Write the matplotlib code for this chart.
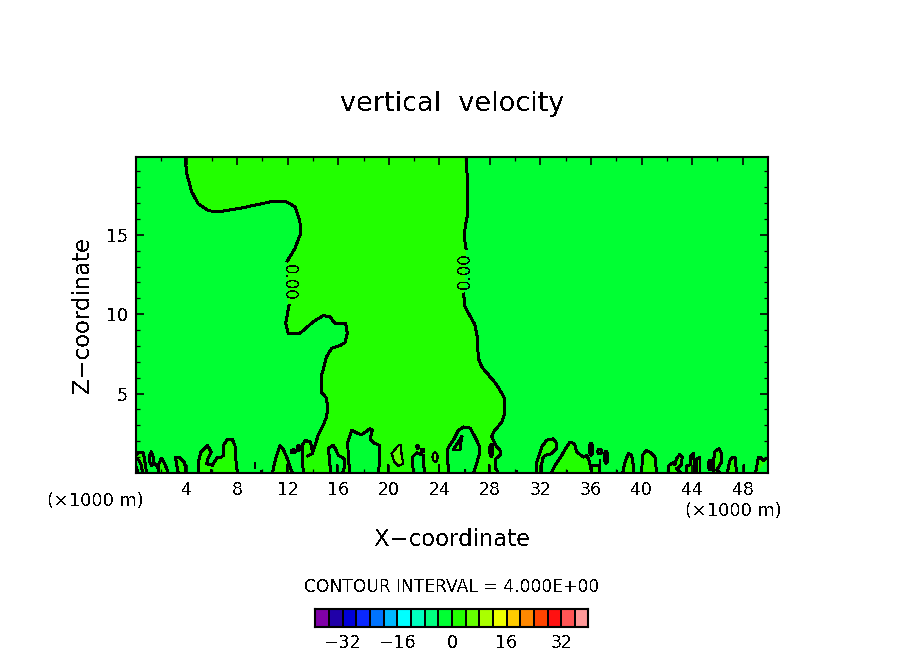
import matplotlib
matplotlib.use("Agg")
import matplotlib.pyplot as plt
from matplotlib.colors import ListedColormap, BoundaryNorm
from matplotlib.patches import Ellipse
import numpy as np

plt.rcParams['text.antialiased'] = False

# ---- zero contour of the main updraft (x, z in km) ----
left_up_x = [3.88,4.01,4.40,4.93,5.72,6.51,8.23,10.60,11.92,12.58,12.97,13.03,12.58,11.97]
left_up_z = [19.9,18.87,17.72,16.94,16.52,16.44,16.67,17.07,17.07,16.77,15.83,15.09,14.15,13.35]
left_lo_x = [12.10,11.84,12.05,12.97,14.03,14.82,15.35,15.74,16.59,16.72,16.54,16.14,15.48,15.08,14.69,14.64,15.08,15.16,15.08,14.82,14.42,14.16,13.95,13.90,13.77,13.37,13.16,13.16,13.24]
left_lo_z = [10.54,9.42,8.80,8.80,9.53,9.91,9.84,9.42,9.42,8.80,8.21,8.02,7.85,7.33,6.17,5.12,4.70,4.01,3.55,3.02,2.39,1.74,1.22,1.64,1.95,2.06,1.74,0.90,0]
right_up_x = [26.11,26.24,26.24,26.03,25.98,26.11]
right_up_z = [19.9,18.24,16.35,15.41,14.78,14.15]
right_lo_x = [25.92,26.03,26.82,27.00,27.08,27.35,28.00,28.50,29.03,29.19,29.19,28.93,28.27,28.14,28.54,28.80,28.80,28.46,28.46,28.67]
right_lo_z = [11.27,10.47,9.32,8.59,7.22,6.69,6.07,5.60,4.90,4.60,3.76,3.20,2.57,2.27,1.64,1.43,1.11,0.90,0.27,0]
hook_x = [13.95,13.58]
hook_z = [1.22,1.07]

# ---- closed positive/negative cells along the ground: (x list, z list) ----
light_cells = [
    ([0,0.16,0.58,0.71,0.84],[1.11,1.28,1.28,0.69,0]),
    ([1.74,1.82,2.00,2.20,2.43,2.53],[0,0.59,0.94,0.69,0.27,0]),
    ([3.35,3.19,3.14,3.45,3.80,3.93,3.96],[0,0.59,0.97,1.00,0.69,0.38,0]),
    ([4.91,4.93,5.12,5.64,5.96,5.70,5.59,6.04,6.43,6.75,6.91,6.91,7.23,7.62,7.83,7.89,8.02],
     [0,0.69,1.32,1.74,1.32,0.90,0.59,0.48,1.00,1.00,1.11,1.74,2.12,2.12,1.74,0.90,0]),
    ([10.79,11.05,11.39,11.63,11.97,12.37],[0,0.90,1.74,1.53,0.90,0]),
    ([31.70,31.70,32.10,32.49,33.02,33.28,33.28,32.89,32.36,32.15,32.04],[0,0.69,1.64,2.06,2.16,1.85,1.53,1.22,1.11,0.90,0]),
    ([32.84,33.15,33.68,34.07,34.34,34.68,34.87,35.39,35.66,35.84,36.05],[0,0.48,1.11,1.64,1.95,1.85,1.32,1.00,1.11,0.80,0]),
    ([36.05,36.05,36.64,36.69],[0,0.48,0.48,0]),
    ([38.50,38.69,38.95,39.21,39.35,39.35],[0,0.69,1.22,1.11,0.48,0]),
    ([40.01,40.06,40.40,40.80,41.06,41.19],[0,1.11,1.43,1.22,1.00,0]),
    ([42.11,42.17,42.51,42.64,42.77,42.99,43.22,43.12,42.77,43.09],[0,0.48,0.65,0.52,0.90,1.15,1.00,0.48,0.27,0]),
    ([43.51,43.57,43.83,43.91,44.09,44.17,44.17],[0,0.44,0.52,1.11,1.22,0.69,0]),
    ([44.30,44.36,44.62,44.62],[0,0.90,0.97,0]),
    ([45.67,45.67,45.81,46.12,46.33,46.33,45.94,46.26],[0,0.69,1.36,1.53,1.22,0.69,0.17,0]),
    ([46.78,46.99,47.20,47.39,47.52],[0,0.80,1.00,0.97,0]),
    ([49.02,49.23,49.42,49.63,50.0],[0,0.97,1.00,0.80,0.97]),
]
dark_cells = [
    ([15.40,15.30,15.22,15.61,15.80,16.01,16.48,16.48,16.35],[0,0.90,1.57,1.74,1.49,1.11,0.90,0.38,0]),
    ([16.93,16.80,16.75,17.06,17.59,17.85,18.51,18.70,18.51,18.78,19.25,19.30,19.17],[0,0.90,1.95,2.69,2.48,2.41,2.79,2.69,2.16,1.91,1.74,0.90,0]),
    ([21.94,21.86,22.21,22.73,22.81],[0,1.00,1.28,1.11,0]),
    ([24.76,24.66,24.66,25.10,25.50,25.90,26.43,26.82,27.14,27.14,26.82,26.69],[0,0.69,1.53,2.06,2.69,2.90,2.83,2.27,1.74,1.11,0.27,0]),
]
inner_lines = [
    ([0,0.24,0.42,0.53],[0.90,0.80,0.48,0]),
    ([0,0.16],[0.38,0]),
    ([1.50,1.74],[0.59,0.31]),
]
triangle_x = [25.77,25.63,25.08,25.77]
triangle_z = [2.29,1.45,1.45,2.29]
blob_x = [1.21,1.37,1.35,1.21,1.08,1.06,1.21]
blob_z = [1.32,1.00,0.59,0.48,0.69,1.07,1.32]
warm_x = [20.23,20.76,20.94,21.02,21.15,20.76,20.44,20.23]
warm_z = [1.22,1.74,1.74,1.11,0.59,0.44,0.69,1.22]

# short ground-attached stubs: x, z top, z bottom
stub_x = [5.96,9.39,9.92,11.92,15.93,19.91,23.97,26.03,27.96,30.12,34.07,38.08,48.10,36.69]
stub_top = [0.27,0.69,0.20,0.59,0.59,0.59,0.59,0.27,0.59,0.20,0.20,0.20,0.59,0.90]
stub_bot = [0,0.27,0,0,0,0,0,0,0,0,0,0,0,0]

# small closed ovals: centre and half-axes
oval_x = [12.45,12.84,22.28,22.68,28.11,36.00,36.69,37.19,45.41]
oval_z = [1.36,1.57,1.64,1.43,1.43,1.50,1.36,1.00,0.50]
oval_rx = [0.18,0.10,0.06,0.10,0.13,0.13,0.15,0.13,0.12]
oval_rz = [0.10,0.16,0.10,0.08,0.38,0.38,0.15,0.38,0.30]
thin_x, thin_z, thin_rx, thin_rz = 23.66, 1.00, 0.20, 0.29

x_ticks = [4,8,12,16,20,24,28,32,36,40,44,48]
z_ticks = [5,10,15]
bar_ticks = [-32,-16,0,16,32]
bar_labels = ["\u221232","\u221216","0","16","32"]
bar_levels = np.arange(-40,41,4)
bar_colors = ['#8000a8','#2000a8','#0000d8','#0a28ff','#0073ff','#00b9ff','#00ffff',
              '#00ffc0','#00ff80','#00ff33','#22ff00','#66ff00','#aaff00','#eeff00',
              '#ffcc00','#ff8800','#ff4400','#ff1111','#ff5555','#ff9999']
LIGHT, DARK = '#22ff00', '#00ff33'

W,H = 904,654
fig = plt.figure(figsize=(W/100,H/100),dpi=100,facecolor='white')
def box(l,t,r,b): return [l/W,1-b/H,(r-l)/W,(b-t)/H]
ax = fig.add_axes(box(136,157,768,473))
ax.set_xlim(0,50); ax.set_ylim(0,19.9); ax.set_facecolor(DARK)
LW=1.4
ln = dict(color='k',lw=LW,antialiased=False,solid_joinstyle='round',clip_on=True)

main_x = left_up_x+left_lo_x+right_lo_x[::-1]+right_up_x[::-1]
main_z = left_up_z+left_lo_z+right_lo_z[::-1]+right_up_z[::-1]
ax.fill(main_x,main_z,color=LIGHT,lw=0,antialiased=False)
for cx,cz in dark_cells:
    ax.fill(cx,cz,color=DARK,lw=0,antialiased=False)
for cx,cz in light_cells:
    ax.fill(cx,cz,color=LIGHT,lw=0,antialiased=False)
ax.fill(triangle_x,triangle_z,color=LIGHT,lw=0,antialiased=False)
ax.fill(warm_x,warm_z,color='#66ff00',lw=0,antialiased=False)
ax.plot(warm_x,warm_z,color='k',lw=0.8,antialiased=False)
for pair in [(left_up_x,left_up_z),(left_lo_x,left_lo_z),(right_up_x,right_up_z),(right_lo_x,right_lo_z),(hook_x,hook_z),(triangle_x,triangle_z),(blob_x,blob_z)]:
    ax.plot(pair[0],pair[1],**ln)
for cx,cz in light_cells+dark_cells+inner_lines:
    ax.plot(cx,cz,**ln)
ax.vlines(stub_x,stub_bot,stub_top,color='k',lw=LW,antialiased=False)
for x,z,rx,rz in zip(oval_x,oval_z,oval_rx,oval_rz):
    ax.add_patch(Ellipse((x,z),2*rx,2*rz,fc='none',ec='k',lw=LW,antialiased=False))
ax.add_patch(Ellipse((thin_x,thin_z),2*thin_rx,2*thin_rz,fc='#66ff00',ec='k',lw=0.8,antialiased=False))

ax.set_xticks(x_ticks); ax.set_yticks(z_ticks)
ax.set_xticks(np.arange(2,50,2),minor=True); ax.set_yticks(np.arange(1,20,1),minor=True)
ax.tick_params(which='major',direction='in',length=5.8,width=1.2,top=True,right=True,labelsize=12.5,pad=6)
ax.tick_params(which='minor',direction='in',length=2.9,width=0.9,top=True,right=True)
for s in ax.spines.values(): s.set_linewidth(1.5)
ax.text(12.10,11.98,"0.00",rotation=-90,ha='center',va='center',fontsize=12,color='k')
ax.text(26.0,12.74,"0.00",rotation=90,ha='center',va='center',fontsize=12,color='k')

def T(x,y,s,**k):
    fig.text(x/W,1-y/H,s,ha='center',va='center',color='k',**k)
T(452,104,"vertical  velocity",fontsize=19.5)
T(452,539,"X\u2212coordinate",fontsize=16.4)
T(83,315,"Z\u2212coordinate",fontsize=16.4,rotation=90)
T(95.5,501,"(\u00d71000 m)",fontsize=12.8)
T(733.5,511,"(\u00d71000 m)",fontsize=12.8)
T(452,587,"CONTOUR INTERVAL = 4.000E+00",fontsize=12.3)

cax = fig.add_axes(box(315.5,608.5,588.5,627))
cmap = ListedColormap(bar_colors); norm = BoundaryNorm(bar_levels,cmap.N)
cax.pcolormesh(bar_levels,[0,1],np.array([(bar_levels[:-1]+bar_levels[1:])/2]),cmap=cmap,norm=norm)
cax.vlines(bar_levels[1:-1],0,1,color='k',lw=1.2,antialiased=False)
cax.set_xlim(-40,40); cax.set_ylim(0,1); cax.set_yticks([])
cax.set_xticks(bar_ticks); cax.set_xticklabels(bar_labels,fontsize=12.5)
cax.tick_params(length=0,pad=5)
for s in cax.spines.values(): s.set_linewidth(1.5)

fig.savefig('out.png',dpi=100)
